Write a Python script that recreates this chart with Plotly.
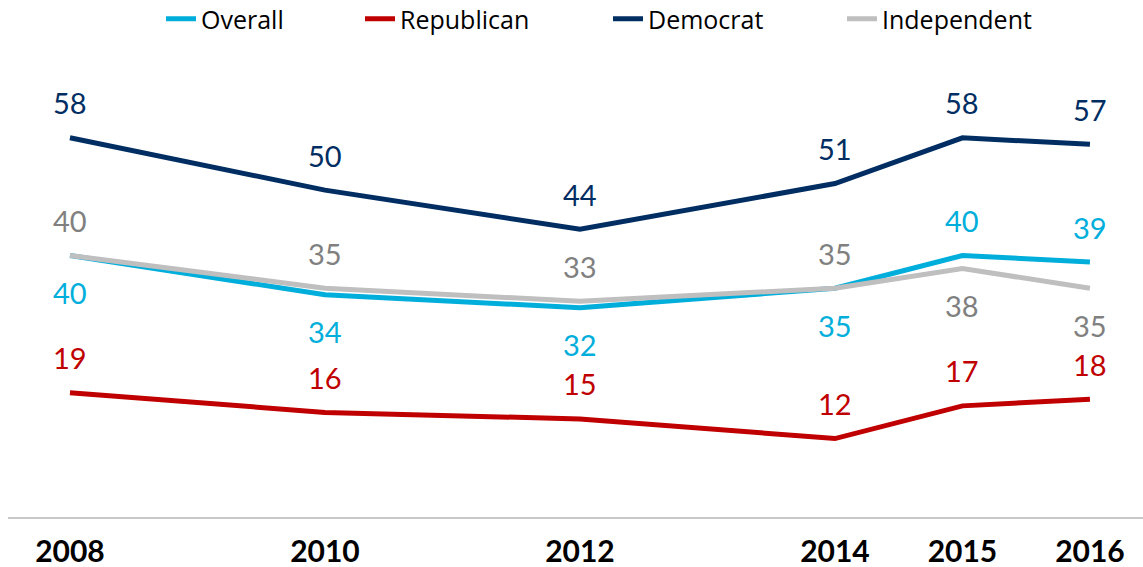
import plotly.graph_objects as go

years = [2008, 2010, 2012, 2014, 2015, 2016]
overall = [40, 34, 32, 35, 40, 39]
republican = [19, 16, 15, 12, 17, 18]
democrat = [58, 50, 44, 51, 58, 57]
independent = [40, 35, 33, 35, 38, 35]
tick_labels = ["2008", "2010", "2012", "2014", "2015", "2016"]

series = [
    ("Overall", overall, "#00AEDB", "#00AEDB"),
    ("Republican", republican, "#C00000", "#C00000"),
    ("Democrat", democrat, "#002D62", "#002D62"),
    ("Independent", independent, "#BFBFBF", "#808080"),
]

# legend text start positions (px) in the reference
legend_text_px = [202, 401, 649, 883]
legend_names = ["legend", "legend2", "legend3", "legend4"]

L, R, T, B = 8, 0, 60, 50
W, H = 1143, 567
PW = W - L - R
PH = H - T - B

fig = go.Figure()
for (name, vals, color, _), lg in zip(series, legend_names):
    fig.add_trace(go.Scatter(
        x=years, y=vals, name=name, mode="lines",
        line=dict(color=color, width=5),
        hoverinfo="skip", legend=lg,
    ))

LABEL_FONT = "Lato, 'Open Sans', sans-serif"
annotations = []
for name, vals, _, tcolor in series:
    for i, (x, v) in enumerate(zip(years, vals)):
        if name == "Overall":
            above = overall[i] > independent[i]
        elif name == "Independent":
            above = not (overall[i] > independent[i])
        else:
            above = True
        annotations.append(dict(
            x=x, y=v, xref="x", yref="y", text=str(v), showarrow=False,
            yshift=35 if above else -37,
            font=dict(family=LABEL_FONT, size=29, color=tcolor),
        ))

legend_font = dict(family="'Open Sans', 'Liberation Sans', sans-serif", size=25, color="#000000")
legend_layouts = {}
for lg, tx in zip(legend_names, legend_text_px):
    legend_layouts[lg] = dict(
        orientation="h", x=(tx - 41 - L) / PW, xanchor="left",
        y=1 + (T - 19) / PH, yanchor="middle",
        font=legend_font, bgcolor="rgba(0,0,0,0)", itemwidth=30,
    )

fig.update_layout(
    width=W, height=H,
    margin=dict(l=L, r=R, t=T, b=B, autoexpand=False),
    paper_bgcolor="white", plot_bgcolor="white",
    showlegend=True,
    annotations=annotations,
    xaxis=dict(
        range=[2007.514, 2016.416], tickmode="array", tickvals=years, ticktext=tick_labels,
        showgrid=False, zeroline=False, showline=True, linecolor="#C8C8C8", linewidth=2,
        ticks="", ticklabelstandoff=7, automargin=False,
        tickfont=dict(family="Lato, sans-serif", size=30, color="#000000", weight="bold"),
    ),
    yaxis=dict(
        range=[0, 69.9], showgrid=False, zeroline=False, showline=False,
        showticklabels=False, ticks="", automargin=False,
    ),
    **legend_layouts,
)

fig.write_html(
    "out.html",
    config={"displayModeBar": False},
    post_script="document.body.style.margin='0';",
)
